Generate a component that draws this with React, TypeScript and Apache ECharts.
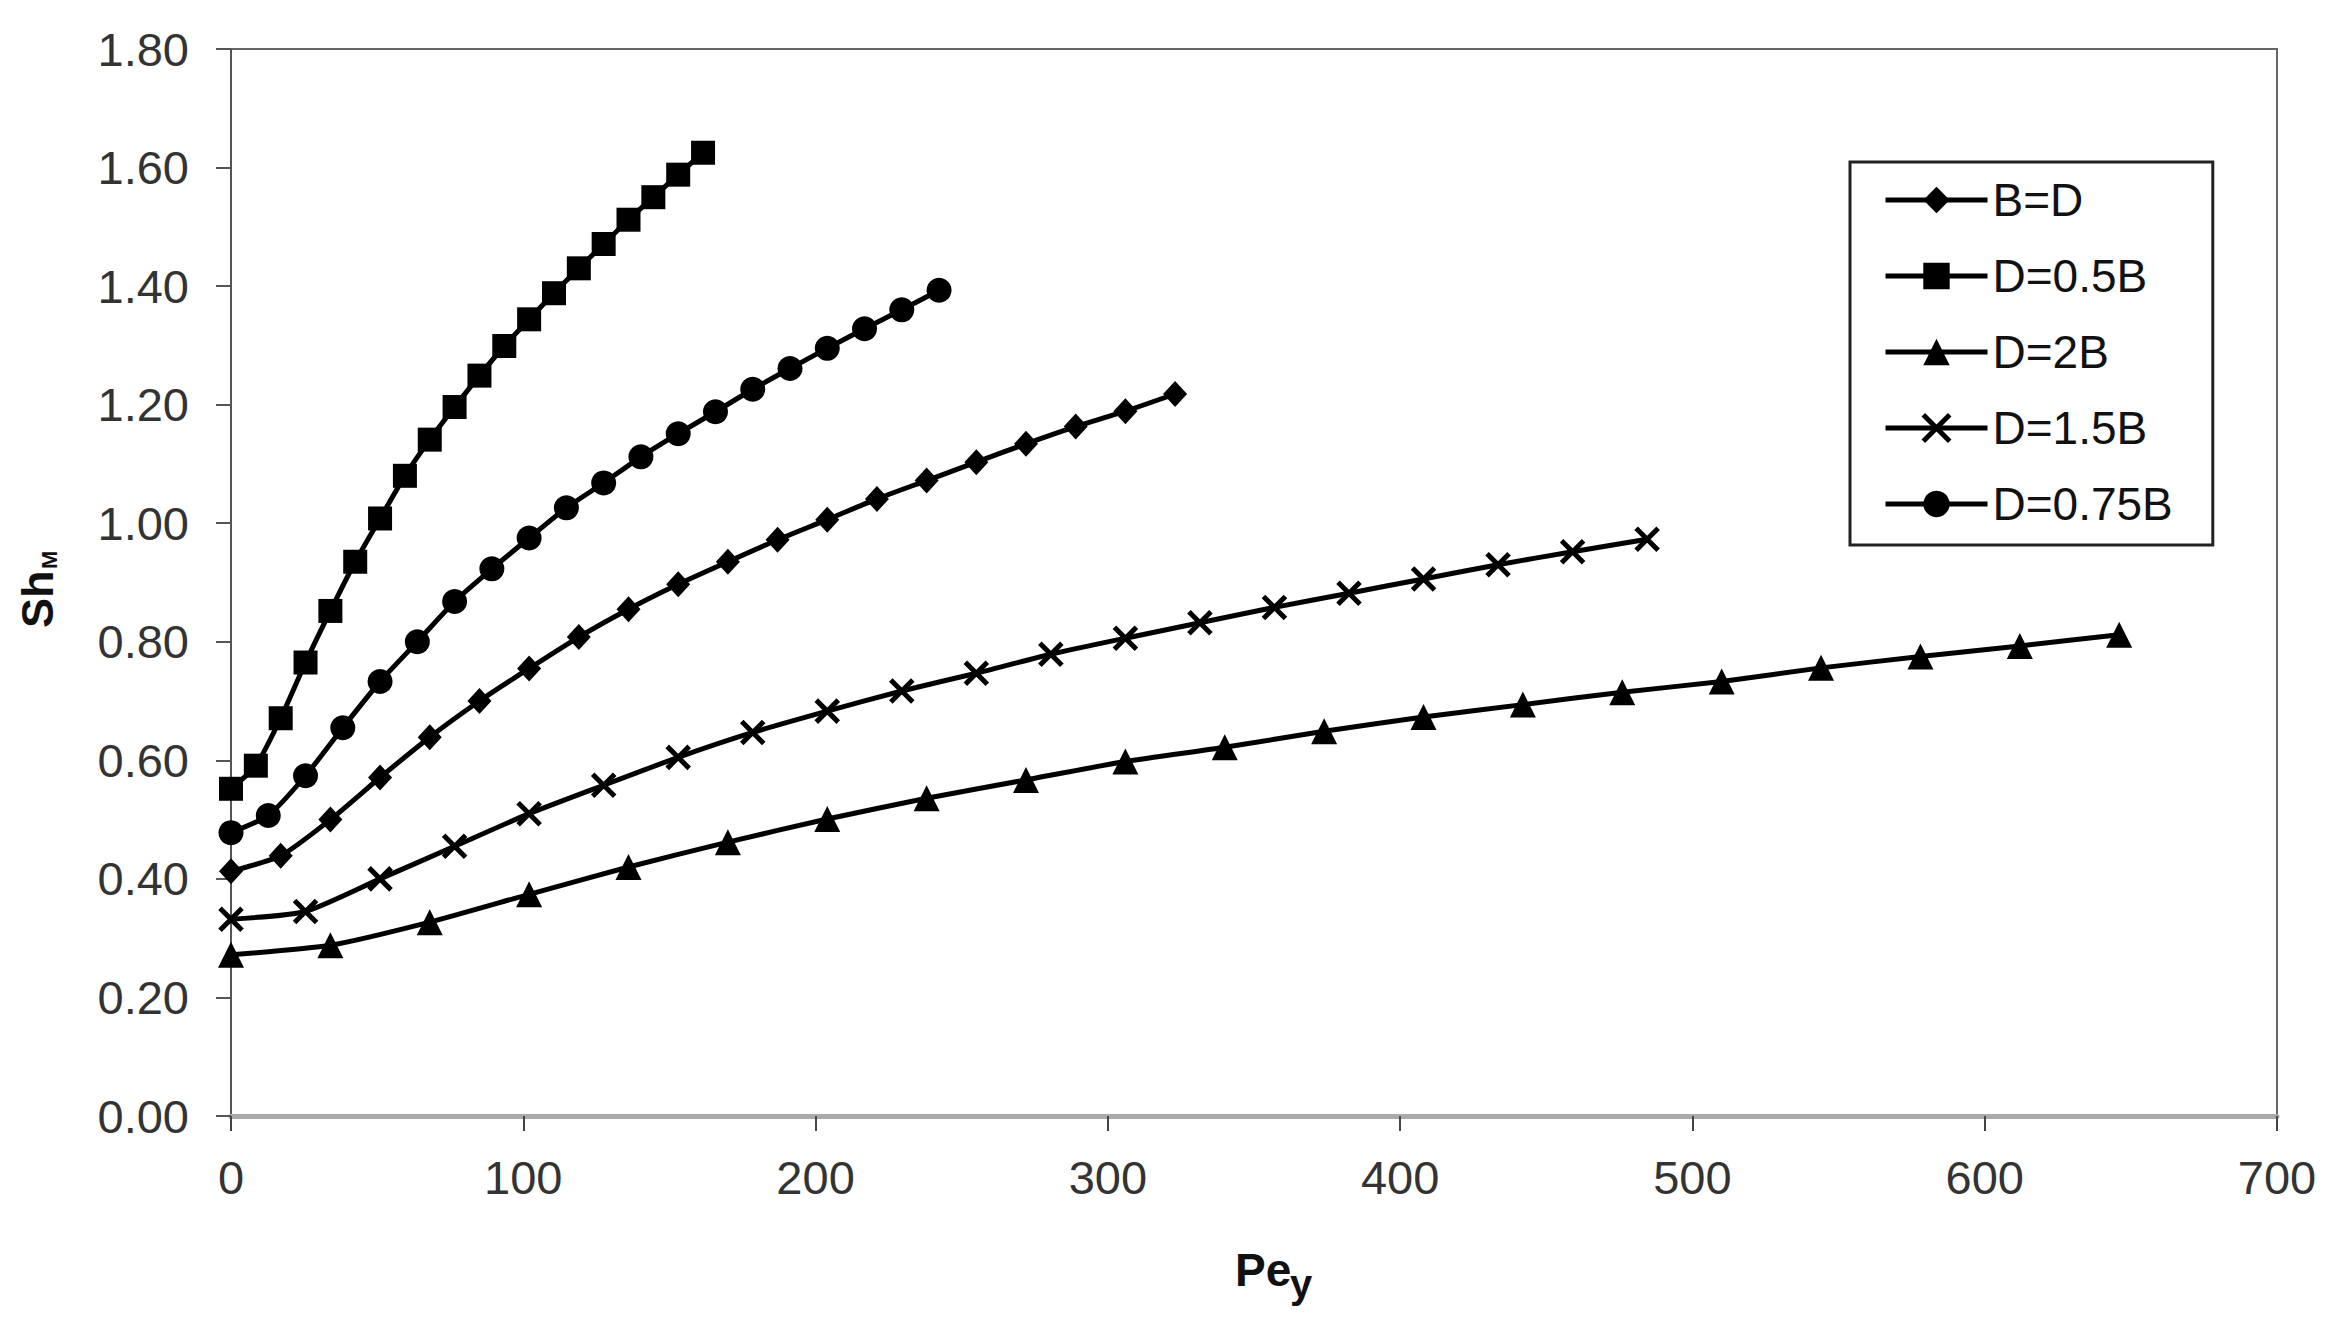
import React, { useEffect, useRef } from "react";
import * as echarts from "echarts";

// Pe_y values (x) for each configuration
const peEqual = [0, 17, 34, 51, 68, 85, 102, 119, 136, 153, 170, 187, 204, 221, 238, 255, 272, 289, 306, 323];
const peHalf = [0, 8.5, 17, 25.5, 34, 42.5, 51, 59.5, 68, 76.5, 85, 93.5, 102, 110.5, 119, 127.5, 136, 144.5, 153, 161.5];
const peDouble = [0, 34, 68, 102, 136, 170, 204, 238, 272, 306, 340, 374, 408, 442, 476, 510, 544, 578, 612, 646];
const peOneHalf = [0, 25.5, 51, 76.5, 102, 127.5, 153, 178.5, 204, 229.5, 255, 280.5, 306, 331.5, 357, 382.5, 408, 433.5, 459, 484.5];
const peThreeQuarter = [0, 12.75, 25.5, 38.25, 51, 63.75, 76.5, 89.25, 102, 114.75, 127.5, 140.25, 153, 165.75, 178.5, 191.25, 204, 216.75, 229.5, 242.25];

// Sh_M values (y)
const shEqual = [0.413, 0.439, 0.5, 0.571, 0.639, 0.7, 0.755, 0.808, 0.855, 0.897, 0.935, 0.972, 1.006, 1.041, 1.072, 1.103, 1.134, 1.163, 1.189, 1.218];
const shHalf = [0.552, 0.591, 0.671, 0.765, 0.852, 0.935, 1.008, 1.08, 1.141, 1.196, 1.249, 1.299, 1.344, 1.388, 1.43, 1.471, 1.512, 1.55, 1.588, 1.625];
const shDouble = [0.272, 0.288, 0.327, 0.374, 0.42, 0.462, 0.501, 0.536, 0.567, 0.598, 0.622, 0.649, 0.673, 0.694, 0.715, 0.733, 0.756, 0.775, 0.793, 0.812];
const shOneHalf = [0.332, 0.345, 0.4, 0.455, 0.51, 0.558, 0.605, 0.647, 0.683, 0.717, 0.747, 0.779, 0.806, 0.832, 0.858, 0.882, 0.906, 0.93, 0.952, 0.973];
const shThreeQuarter = [0.478, 0.507, 0.574, 0.655, 0.733, 0.8, 0.868, 0.923, 0.975, 1.026, 1.068, 1.112, 1.151, 1.188, 1.226, 1.261, 1.295, 1.328, 1.36, 1.393];

const seriesNames = ["B=D", "D=0.5B", "D=2B", "D=1.5B", "D=0.75B"];

const FONT = "'Liberation Sans', Arial, Helvetica, sans-serif";

export default function App() {
  const ref = useRef<HTMLDivElement>(null);

  useEffect(() => {
    const chart = echarts.init(ref.current as HTMLDivElement, null, { renderer: "svg" });
    const zip = (xs: number[], ys: number[]) => xs.map((x, i) => [x, ys[i]]);
    const base = {
      type: "line",
      smooth: 0.2,
      lineStyle: { color: "#000", width: 5 },
      itemStyle: { color: "#000", borderColor: "#000", borderWidth: 0 },
      emphasis: { disabled: true },
      z: 3,
    };

    chart.setOption({
      animation: false,
      backgroundColor: "#fff",
      grid: {
        left: 231,
        right: 57,
        top: 49,
        bottom: 213,
        show: true,
        borderColor: "#666",
        borderWidth: 2,
        backgroundColor: "transparent",
      },
      xAxis: {
        type: "value",
        min: 0,
        max: 700,
        interval: 100,
        axisLine: { show: true, lineStyle: { color: "#aaa", width: 5 } },
        axisTick: { show: true, inside: false, length: 15, lineStyle: { color: "#444", width: 2 } },
        splitLine: { show: false },
        axisLabel: { margin: 38, fontSize: 47, color: "#333", fontFamily: FONT },
      },
      yAxis: {
        type: "value",
        min: 0,
        max: 1.8,
        interval: 0.2,
        axisLine: { show: true, lineStyle: { color: "#555", width: 2 } },
        axisTick: { show: true, inside: false, length: 15, lineStyle: { color: "#555", width: 2 } },
        splitLine: { show: false },
        axisLabel: {
          margin: 42,
          fontSize: 47,
          color: "#333",
          fontFamily: FONT,
          formatter: (v: number) => v.toFixed(2),
        },
      },
      legend: {
        orient: "vertical",
        left: 1850,
        top: 162,
        itemWidth: 102,
        itemHeight: 33,
        itemGap: 30,
        padding: [15, 40, 18, 33],
        borderColor: "#222",
        borderWidth: 3,
        selectedMode: false,
        lineStyle: { width: 5, color: "#000" },
        textStyle: { fontSize: 46, color: "#111", fontFamily: FONT },
        data: seriesNames.map((n) =>
          n === "D=1.5B" ? { name: n, itemStyle: { borderColor: "#000", borderWidth: 5 } } : { name: n }
        ),
      },
      graphic: [
        {
          type: "text",
          x: 1235,
          y: 1270,
          style: { text: "Pe", fontSize: 46, fontWeight: "bold", fontFamily: FONT, fill: "#111", align: "left", verticalAlign: "middle" },
        },
        {
          type: "text",
          x: 1290,
          y: 1284,
          style: { text: "y", fontSize: 40, fontWeight: "bold", fontFamily: FONT, fill: "#111", align: "left", verticalAlign: "middle" },
        },
        {
          type: "group",
          x: 37,
          y: 628,
          rotation: Math.PI / 2,
          children: [
            {
              type: "text",
              x: 0,
              y: 0,
              style: { text: "Sh", fontSize: 45, fontWeight: "bold", fontFamily: FONT, fill: "#111", align: "left", verticalAlign: "middle" },
            },
            {
              type: "text",
              x: 59,
              y: 12,
              style: { text: "M", fontSize: 22, fontWeight: "bold", fontFamily: FONT, fill: "#111", align: "left", verticalAlign: "middle" },
            },
          ],
        },
      ],
      series: [
        { ...base, name: "B=D", symbol: "diamond", symbolSize: [24, 26], data: zip(peEqual, shEqual) },
        { ...base, name: "D=0.5B", symbol: "rect", symbolSize: 24, data: zip(peHalf, shHalf) },
        { ...base, name: "D=2B", symbol: "triangle", symbolSize: 26, data: zip(peDouble, shDouble) },
        {
          ...base,
          name: "D=1.5B",
          symbol: "path://M0 0L20 20M20 0L0 20",
          symbolSize: 22,
          itemStyle: { color: "#000", borderColor: "#000", borderWidth: 5 },
          data: zip(peOneHalf, shOneHalf),
        },
        { ...base, name: "D=0.75B", symbol: "circle", symbolSize: 25, data: zip(peThreeQuarter, shThreeQuarter) },
      ],
    });

    return () => chart.dispose();
  }, []);

  return (
    <div
      ref={ref}
      style={{ position: "absolute", left: 0, top: 0, width: 2334, height: 1329, background: "#fff" }}
    />
  );
}
